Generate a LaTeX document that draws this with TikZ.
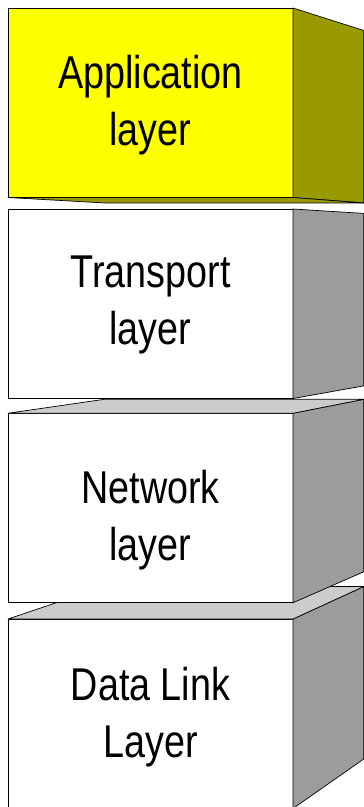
\documentclass[tikz,border=0pt]{standalone}
\usepackage{fontspec}
\newfontfamily\layerfont{Liberation Sans}[FakeStretch=0.82]
\usetikzlibrary{calc}

\definecolor{appyellow}{HTML}{FFFF00}
\definecolor{appolive}{HTML}{999900}
\definecolor{sidegrey}{HTML}{9C9C9C}
\definecolor{topgrey}{HTML}{CCCCCC}

\tikzset{
	layer/.style = {draw, line width=0.7pt, rectangle, outer sep=0pt, inner sep=0pt,
		minimum width=285pt, minimum height=189.5pt},
	layername/.style = {align=center, inner sep=0pt, font=\layerfont\fontsize{46}{57}\selectfont},
	face/.style = {draw, line width=0.7pt, line join=round},
}

\begin{document}
\begin{tikzpicture}[x=1pt, y=-1pt]
			\clip (0,0) rectangle (364,807);
			\coordinate (vp) at (1080,258);
			
			% bottom of the stack first, so the boxes above hide its lid
			\node[layer, fill=white] (dl) at (150.5,713.75) {};
			\draw[face, fill=sidegrey] (dl.north east) -- ($(vp)!0.91!(dl.north east)$) -- ($(vp)!0.91!(dl.south east)$) -- (dl.south east) -- cycle;
			\draw[face, fill=topgrey] (dl.north west) -- ($(vp)!0.91!(dl.north west)$) -- ($(vp)!0.91!(dl.north east)$) -- (dl.north east) -- cycle;
			\node[layername] (dlname) at ([yshift=-3pt]dl.center) {Data Link\\Layer};
			
			\node[layer, fill=white] (net) at (150.5,508) {};
			\draw[face, fill=sidegrey] (net.north east) -- ($(vp)!0.91!(net.north east)$) -- ($(vp)!0.91!(net.south east)$) -- (net.south east) -- cycle;
			\draw[face, fill=topgrey] (net.north west) -- ($(vp)!0.91!(net.north west)$) -- ($(vp)!0.91!(net.north east)$) -- (net.north east) -- cycle;
			\node[layername] (netname) at ([yshift=-12pt]net.center) {Network\\layer};
			
			\node[layer, fill=white] (tr) at (150.5,303.75) {};
			\draw[face, fill=sidegrey] (tr.north east) -- ($(vp)!0.91!(tr.north east)$) -- ($(vp)!0.91!(tr.south east)$) -- (tr.south east) -- cycle;
			\node[layername] (trname) at ([yshift=-1pt]tr.center) {Transport\\layer};
			
			\node[layer, fill=appyellow] (app) at (150.5,102.75) {};
			\draw[face, fill=appolive] (app.north east) -- ($(vp)!0.91!(app.north east)$) -- ($(vp)!0.91!(app.south east)$) -- (app.south east) -- cycle;
			\draw[face, fill=appolive] (app.south west) -- ($(vp)!0.91!(app.south west)$) -- ($(vp)!0.91!(app.south east)$) -- (app.south east) -- cycle;
			\node[layername] (appname) at ([yshift=-2pt]app.center) {Application\\layer};
			
		\end{tikzpicture}
\end{document}
